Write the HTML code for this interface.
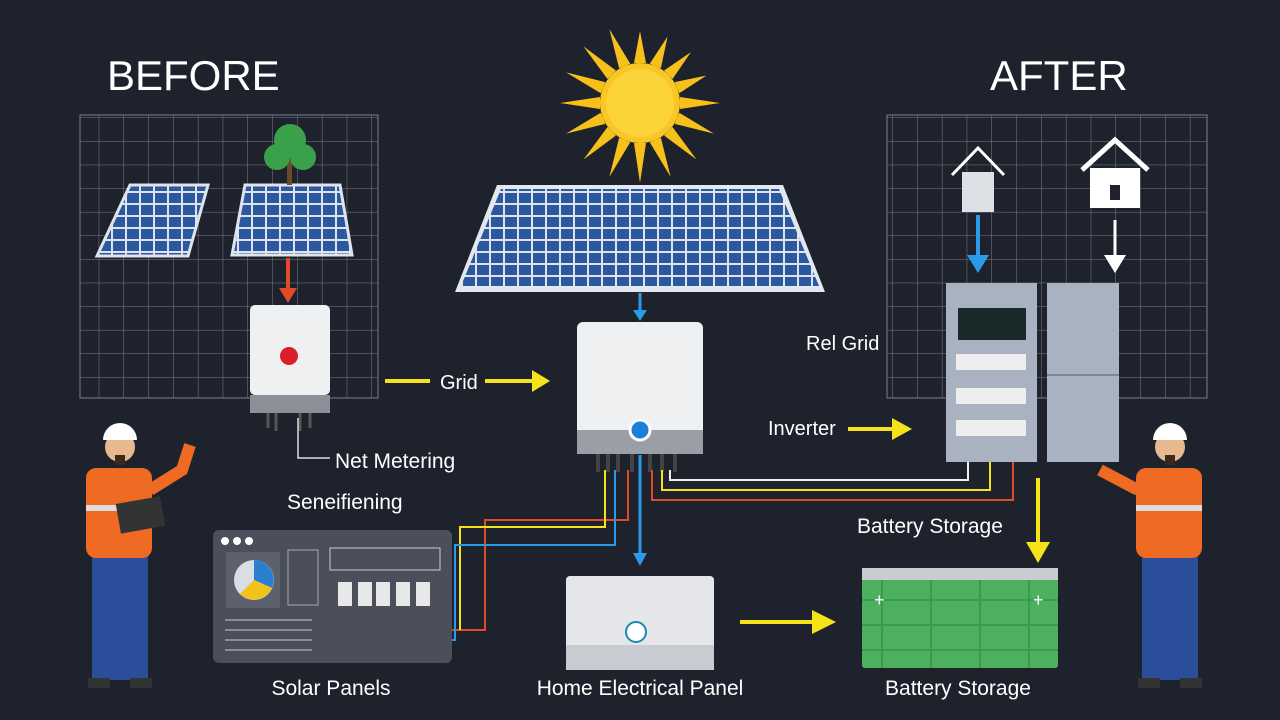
<!DOCTYPE html>
<html><head><meta charset="utf-8"><style>
html,body{margin:0;padding:0;background:#1e222d;}
svg{display:block}
text{font-family:"Liberation Sans",sans-serif;fill:#fff}
</style></head><body>
<svg width="1280" height="720" viewBox="0 0 1280 720" xmlns="http://www.w3.org/2000/svg">
<defs>
<pattern id="grid" width="24.8" height="23.6" patternUnits="userSpaceOnUse">
<path d="M24.8 0V23.6H0" fill="none" stroke="#7a7f8a" stroke-width="1"/>
</pattern>
<pattern id="cells" width="14" height="12" patternUnits="userSpaceOnUse">
<rect width="14" height="12" fill="#dfe4ec"/>
<rect x="1" y="1" width="12" height="10" fill="#2c58a0"/>
</pattern>
<pattern id="bgrid" width="49" height="25" patternUnits="userSpaceOnUse">
<rect width="49" height="25" fill="#3a9a4e"/>
<rect x="1" y="1" width="47" height="23" fill="#4cb05f"/>
</pattern>
</defs>
<rect width="1280" height="720" fill="#1e222d"/>
<rect x="80" y="115" width="298" height="283" fill="url(#grid)" stroke="#7a7f8a"/>
<rect x="887" y="115" width="320" height="283" fill="url(#grid)" stroke="#7a7f8a"/>
<text x="107" y="90" font-size="42">BEFORE</text>
<text x="990" y="90" font-size="42">AFTER</text>
<g transform="translate(640,103)" fill="#f6c11a">
<g id="rays">
<polygon points="-6,-40 6,-40 0,-72"/><polygon points="-6,40 6,40 0,80"/>
<polygon points="-40,-6 -40,6 -80,0"/><polygon points="40,-6 40,6 80,0"/>
</g>
<use href="#rays" transform="rotate(22.5)"/><use href="#rays" transform="rotate(45)"/><use href="#rays" transform="rotate(67.5)"/>
<circle r="40" fill="#f9c626"/><circle r="34" fill="#fbd43a"/>
</g>
<polygon points="497,185 783,185 825,292 455,292" fill="#e3e7ee"/>
<polygon points="501,189 779,189 819,286 461,286" fill="url(#cells)"/>
<polygon points="130,185 208,185 188,256 97,256" fill="url(#cells)" stroke="#dfe4ec" stroke-width="3"/>
<polygon points="245,185 340,185 352,255 232,255" fill="url(#cells)" stroke="#dfe4ec" stroke-width="3"/>
<rect x="287" y="160" width="5" height="25" fill="#6b4a2a"/>
<circle cx="290" cy="140" r="16" fill="#3aa04a"/><circle cx="277" cy="157" r="13" fill="#3aa04a"/><circle cx="303" cy="157" r="13" fill="#3aa04a"/>
<line x1="288" y1="258" x2="288" y2="290" stroke="#e24a2a" stroke-width="4"/>
<polygon points="279,288 297,288 288,303" fill="#e24a2a"/>
<rect x="250" y="305" width="80" height="90" rx="5" fill="#eef0f2"/>
<rect x="250" y="395" width="80" height="18" fill="#8a8f98"/>
<circle cx="289" cy="356" r="9" fill="#d9202a"/>
<path d="M268 413v15M276 413v18M300 413v18M310 413v15" stroke="#555" stroke-width="3" fill="none"/>
<path d="M298 418V458H330" stroke="#ddd" stroke-width="1.5" fill="none"/>
<text x="335" y="468" font-size="21">Net Metering</text>
<text x="287" y="509" font-size="21">Seneifiening</text>
<line x1="385" y1="381" x2="430" y2="381" stroke="#f5e21b" stroke-width="4"/>
<text x="440" y="389" font-size="20">Grid</text>
<line x1="485" y1="381" x2="535" y2="381" stroke="#f5e21b" stroke-width="4"/>
<polygon points="532,370 550,381 532,392" fill="#f5e21b"/>
<line x1="640" y1="293" x2="640" y2="312" stroke="#2a9be8" stroke-width="3"/>
<polygon points="633,310 647,310 640,321" fill="#2a9be8"/>
<rect x="577" y="322" width="126" height="130" rx="6" fill="#eef0f2"/>
<rect x="577" y="430" width="126" height="24" fill="#9a9ea6"/>
<circle cx="640" cy="430" r="10" fill="#1e7fd8" stroke="#fff" stroke-width="3"/>
<path d="M598 454v18M608 454v18M618 454v18M632 454v18M650 454v18M662 454v18M675 454v18" stroke="#444" stroke-width="4"/>
<path d="M670 470V480H968V440" stroke="#f0f0f0" stroke-width="2" fill="none"/>
<path d="M662 470V490H990V440" stroke="#f5e21b" stroke-width="2" fill="none"/>
<path d="M652 470V500H1013V440" stroke="#e24a2a" stroke-width="2" fill="none"/>
<path d="M628 470V520H485V630H440" stroke="#e24a2a" stroke-width="2" fill="none"/>
<path d="M605 470V527H460V630" stroke="#f5e21b" stroke-width="2" fill="none"/>
<path d="M615 470V545H455V640H430" stroke="#2a9be8" stroke-width="2" fill="none"/>
<line x1="640" y1="455" x2="640" y2="555" stroke="#2a9be8" stroke-width="3"/>
<polygon points="633,553 647,553 640,566" fill="#2a9be8"/>
<rect x="213" y="530" width="239" height="133" rx="6" fill="#4b4f5b"/>
<circle cx="225" cy="541" r="4" fill="#fff"/><circle cx="237" cy="541" r="4" fill="#fff"/><circle cx="249" cy="541" r="4" fill="#fff"/>
<rect x="226" y="552" width="54" height="56" fill="#5d616c"/>
<circle cx="254" cy="580" r="20" fill="#d9dde4"/>
<path d="M254 580V560A20 20 0 0 1 272 588Z" fill="#2a7fd0"/>
<path d="M254 580L272 588A20 20 0 0 1 240 594Z" fill="#f2c419"/>
<rect x="330" y="548" width="110" height="22" fill="none" stroke="#ccc"/>
<g fill="#e8e8e8"><rect x="338" y="582" width="14" height="24"/><rect x="358" y="582" width="14" height="24"/><rect x="376" y="582" width="14" height="24"/><rect x="396" y="582" width="14" height="24"/><rect x="416" y="582" width="14" height="24"/></g>
<g stroke="#ccc"><line x1="225" y1="620" x2="312" y2="620"/><line x1="225" y1="630" x2="312" y2="630"/><line x1="225" y1="640" x2="312" y2="640"/><line x1="225" y1="650" x2="312" y2="650"/></g>
<rect x="288" y="550" width="30" height="55" fill="none" stroke="#aaa"/>
<rect x="566" y="576" width="148" height="94" rx="4" fill="#e4e6ea"/>
<rect x="566" y="645" width="148" height="25" fill="#c8cbd0"/>
<circle cx="636" cy="632" r="10" fill="#fff" stroke="#1a8ab0" stroke-width="2"/>
<line x1="740" y1="622" x2="815" y2="622" stroke="#f5e21b" stroke-width="4"/>
<polygon points="812,610 836,622 812,634" fill="#f5e21b"/>
<rect x="862" y="568" width="196" height="100" rx="3" fill="url(#bgrid)"/>
<rect x="862" y="568" width="196" height="12" fill="#c9ccd0"/>
<text x="874" y="606" font-size="18">+</text><text x="1033" y="606" font-size="18">+</text>
<text x="806" y="350" font-size="20">Rel Grid</text>
<text x="768" y="435" font-size="20">Inverter</text>
<line x1="848" y1="429" x2="895" y2="429" stroke="#f5e21b" stroke-width="4"/>
<polygon points="892,418 912,429 892,440" fill="#f5e21b"/>
<rect x="946" y="283" width="91" height="179" fill="#a8b2c0"/>
<rect x="958" y="308" width="68" height="32" fill="#1a2a2a"/>
<g fill="#eee"><rect x="956" y="354" width="70" height="16"/><rect x="956" y="388" width="70" height="16"/><rect x="956" y="420" width="70" height="16"/></g>
<rect x="1047" y="283" width="72" height="179" fill="#a8b2c0"/>
<line x1="1047" y1="375" x2="1119" y2="375" stroke="#7d8696" stroke-width="2"/>
<path d="M952 175L978 148L1004 175" stroke="#fff" stroke-width="3" fill="none"/>
<rect x="962" y="172" width="32" height="40" fill="#dde0e4"/>
<line x1="978" y1="215" x2="978" y2="258" stroke="#2a9be8" stroke-width="4"/>
<polygon points="967,255 989,255 978,273" fill="#2a9be8"/>
<path d="M1082 170L1115 140L1148 170" stroke="#fff" stroke-width="5" fill="none"/>
<rect x="1090" y="168" width="50" height="40" fill="#fff"/><rect x="1110" y="185" width="10" height="15" fill="#1f232e"/>
<line x1="1115" y1="220" x2="1115" y2="258" stroke="#fff" stroke-width="3"/>
<polygon points="1104,255 1126,255 1115,273" fill="#fff"/>
<line x1="1038" y1="478" x2="1038" y2="545" stroke="#f5e21b" stroke-width="4"/>
<polygon points="1026,542 1050,542 1038,563" fill="#f5e21b"/>
<text x="857" y="533" font-size="21">Battery Storage</text>
<g id="wk">
<rect x="92" y="550" width="56" height="130" fill="#2b4e9a"/>
<rect x="86" y="468" width="66" height="90" rx="10" fill="#ef6a23"/>
<rect x="86" y="505" width="66" height="6" fill="#ddd"/>
<circle cx="120" cy="447" r="15" fill="#e8b890"/>
<path d="M120 455v10" stroke="#3a2a1a" stroke-width="10"/>
<path d="M103 440a17 17 0 0 1 34 0z" fill="#fff"/>
<rect x="88" y="678" width="22" height="10" fill="#333"/><rect x="130" y="678" width="22" height="10" fill="#333"/>
</g>
<path d="M150 490L182 470L190 445" stroke="#ef6a23" stroke-width="12" fill="none"/>
<rect x="118" y="500" width="45" height="30" fill="#333" transform="rotate(-10 140 515)"/>
<use href="#wk" transform="translate(1050,0)"/>
<path d="M1138 490L1100 470" stroke="#ef6a23" stroke-width="12"/>
<text x="331" y="695" font-size="21" text-anchor="middle">Solar Panels</text>
<text x="640" y="695" font-size="21" text-anchor="middle">Home Electrical Panel</text>
<text x="958" y="695" font-size="21" text-anchor="middle">Battery Storage</text>
</svg>
</body></html>
